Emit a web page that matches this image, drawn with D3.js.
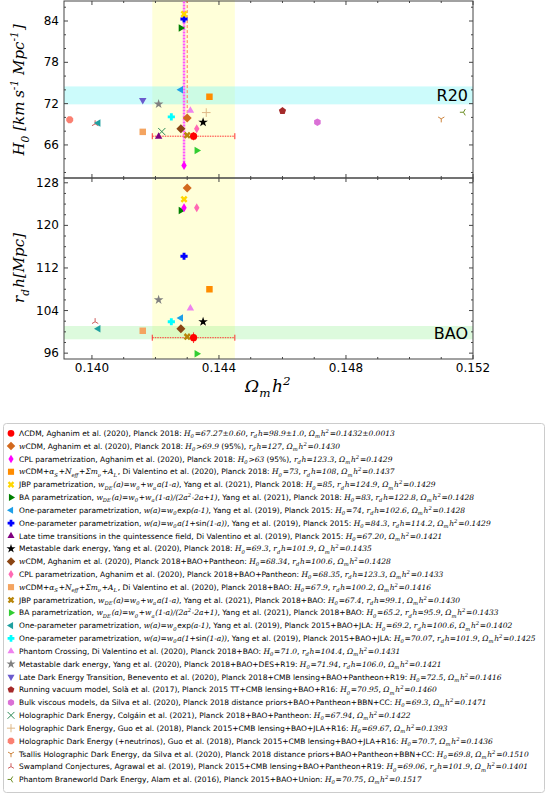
<!DOCTYPE html>
<html><head><meta charset="utf-8">
<script src="https://cdn.jsdelivr.net/npm/d3@7"></script>
<style>body{margin:0;background:#fff}</style>
</head><body>
<svg id="fig" width="549" height="798"></svg>
<script>
// x = Omega_m h^2, top = H0, bottom = r_d h (null = not shown)
var omegas = [0.1432,0.1430,0.1429,0.1437,0.1429,0.1428,0.1428,0.1429,0.1421,0.1435,0.1428,0.1433,0.1416,0.1430,
              0.1433,0.1402,0.1425,0.1431,0.1421,0.1416,0.1460,0.1471,0.1422,0.1436,0.1393,0.1510,0.1401,0.1517];
var h0s = [67.27,69.9,63,73,85,83,74,84.3,67.20,69.3,68.34,68.35,67.9,67.4,
           65.2,69.2,70.07,71.0,71.94,72.5,70.95,69.3,67.94,70.7,69.67,69.8,69.06,70.75];
var rdhs = [98.9,127,123.3,108,124.9,122.8,102.6,114.2,null,101.9,100.6,123.3,100.2,99.1,
            95.9,100.6,101.9,104.4,106.0,null,null,null,null,null,null,null,101.9,null];
var markers = ["circle","diamond","thin","square","xfill","tri_r","tri_l","plusfill","tri_u","star","diamond","thin","square","xfill",
               "tri_r","tri_l","plusfill","tri_u","star","tri_d","pent","hex","xline","plusline","oct","y_down","y_up","y_left"];
var colors = ["#ff0000","#d2691e","#ff00ff","#ff8c00","#ffd700","#008000","#1e9fe8","#0000ff","#800080","#000000","#8b4513","#ff69b4","#f4a460","#b8860b",
              "#32cd32","#20a0a0","#00ffff","#ee82ee","#808080","#6a5acd","#a52a2a","#da70d6","#2e8b57","#deb887","#fa8072","#cd853f","#cd5c5c","#6b8e23"];
var legendMarkers = markers.slice();
var legendColors = colors.slice();
var labels = [
 "ΛCDM, Aghanim et al. (2020), Planck 2018: $H_0=67.27±0.60$, $r_dh=98.9±1.0$, $Ω_mh^2=0.1432±0.0013$",
 "$w$CDM, Aghanim et al. (2020), Planck 2018: $H_0>69.9$ (95%), $r_dh=127$, $Ω_mh^2=0.1430$",
 "CPL parametrization, Aghanim et al. (2020), Planck 2018: $H_0>63$ (95%), $r_dh=123.3$, $Ω_mh^2=0.1429$",
 "$w$CDM+$α_S$+$N_{eff}$+$Σm_ν$+$A_L$, Di Valentino et al. (2020), Planck 2018: $H_0=73$, $r_dh=108$, $Ω_mh^2=0.1437$",
 "JBP parametrization, $w_{DE}(a)=w_0+w_aa(1-a)$, Yang et al. (2021), Planck 2018: $H_0=85$, $r_dh=124.9$, $Ω_mh^2=0.1429$",
 "BA parametrization, $w_{DE}(a)=w_0+w_a(1-a)/(2a^2-2a+1)$, Yang et al. (2021), Planck 2018: $H_0=83$, $r_dh=122.8$, $Ω_mh^2=0.1428$",
 "One-parameter parametrization, $w(a)=w_0$exp$(a-1)$, Yang et al. (2019), Planck 2015: $H_0=74$, $r_dh=102.6$, $Ω_mh^2=0.1428$",
 "One-parameter parametrization, $w(a)=w_0a(1+$sin$(1-a))$, Yang et al. (2019), Planck 2015: $H_0=84.3$, $r_dh=114.2$, $Ω_mh^2=0.1429$",
 "Late time transitions in the quintessence field, Di Valentino et al. (2019), Planck 2015: $H_0=67.20$, $Ω_mh^2=0.1421$",
 "Metastable dark energy, Yang et al. (2020), Planck 2018: $H_0=69.3$, $r_dh=101.9$, $Ω_mh^2=0.1435$",
 "$w$CDM, Aghanim et al. (2020), Planck 2018+BAO+Pantheon: $H_0=68.34$, $r_dh=100.6$, $Ω_mh^2=0.1428$",
 "CPL parametrization, Aghanim et al. (2020), Planck 2018+BAO+Pantheon: $H_0=68.35$, $r_dh=123.3$, $Ω_mh^2=0.1433$",
 "$w$CDM+$α_S$+$N_{eff}$+$Σm_ν$+$A_L$, Di Valentino et al. (2020), Planck 2018+BAO: $H_0=67.9$, $r_dh=100.2$, $Ω_mh^2=0.1416$",
 "JBP parametrization, $w_{DE}(a)=w_0+w_aa(1-a)$, Yang et al. (2021), Planck 2018+BAO: $H_0=67.4$, $r_dh=99.1$, $Ω_mh^2=0.1430$",
 "BA parametrization, $w_{DE}(a)=w_0+w_a(1-a)/(2a^2-2a+1)$, Yang et al. (2021), Planck 2018+BAO: $H_0=65.2$, $r_dh=95.9$, $Ω_mh^2=0.1433$",
 "One-parameter parametrization, $w(a)=w_0$exp$(a-1)$, Yang et al. (2019), Planck 2015+BAO+JLA: $H_0=69.2$, $r_dh=100.6$, $Ω_mh^2=0.1402$",
 "One-parameter parametrization, $w(a)=w_0a(1+$sin$(1-a))$, Yang et al. (2019), Planck 2015+BAO+JLA: $H_0=70.07$, $r_dh=101.9$, $Ω_mh^2=0.1425$",
 "Phantom Crossing, Di Valentino et al. (2020), Planck 2018+BAO: $H_0=71.0$, $r_dh=104.4$, $Ω_mh^2=0.1431$",
 "Metastable dark energy, Yang et al. (2020), Planck 2018+BAO+DES+R19: $H_0=71.94$, $r_dh=106.0$, $Ω_mh^2=0.1421$",
 "Late Dark Energy Transition, Benevento et al. (2020), Planck 2018+CMB lensing+BAO+Pantheon+R19: $H_0=72.5$, $Ω_mh^2=0.1416$",
 "Running vacuum model, Solà et al. (2017), Planck 2015 TT+CMB lensing+BAO+R16: $H_0=70.95$, $Ω_mh^2=0.1460$",
 "Bulk viscous models, da Silva et al. (2020), Planck 2018 distance priors+BAO+Pantheon+BBN+CC: $H_0=69.3$, $Ω_mh^2=0.1471$",
 "Holographic Dark Energy, Colgáin et al. (2021), Planck 2018+BAO+Pantheon: $H_0=67.94$, $Ω_mh^2=0.1422$",
 "Holographic Dark Energy, Guo et al. (2018), Planck 2015+CMB lensing+BAO+JLA+R16: $H_0=69.67$, $Ω_mh^2=0.1393$",
 "Holographic Dark Energy (+neutrinos), Guo et al. (2018), Planck 2015+CMB lensing+BAO+JLA+R16: $H_0=70.7$, $Ω_mh^2=0.1436$",
 "Tsallis Holographic Dark Energy, da Silva et al. (2020), Planck 2018 distance priors+BAO+Pantheon+BBN+CC: $H_0=69.8$, $Ω_mh^2=0.1510$",
 "Swampland Conjectures, Agrawal et al. (2019), Planck 2015+CMB lensing+BAO+Pantheon+R19: $H_0=69.06$, $r_dh=101.9$, $Ω_mh^2=0.1401$",
 "Phantom Braneworld Dark Energy, Alam et al. (2016), Planck 2015+BAO+Union: $H_0=70.75$, $Ω_mh^2=0.1517$"
];
var xTicks = [0.140,0.144,0.148,0.152];
var h0Ticks = [66,72,78,84];
var rdhTicks = [96,104,112,120,128];

var svg = d3.select("#fig");
var L = 64, R = 473;
var x = d3.scaleLinear().domain([0.13912,0.152]).range([L,R]);
var yTop = d3.scaleLinear().domain([61.2,87.05]).range([178,0]);
var yBot = d3.scaleLinear().domain([94.9,128.9]).range([359,178]);

function poly(n, r, rot) {
    var p = [];
    for (var i = 0; i < n; i++) { var a = rot + i*2*Math.PI/n; p.push([r*Math.sin(a), -r*Math.cos(a)]); }
    return "M" + p.join("L") + "Z";
}
function tri(r, ang) { return poly(3, r, ang); }
function markerPath(t, s) {
    var r = s;
    switch (t) {
    case "circle": return d3.symbol(d3.symbolCircle, Math.PI*r*r)();
    case "oct": return poly(8, r*1.05, Math.PI/8);
    case "hex": return poly(6, r*1.05, 0);
    case "pent": return poly(5, r*1.05, 0);
    case "square": return "M"+(-r*0.9)+","+(-r*0.9)+"h"+(1.8*r)+"v"+(1.8*r)+"h"+(-1.8*r)+"Z";
    case "diamond": return "M0,"+(-r*1.25)+"L"+(r*1.25)+",0L0,"+(r*1.25)+"L"+(-r*1.25)+",0Z";
    case "thin": return "M0,"+(-r*1.25)+"L"+(r*0.75)+",0L0,"+(r*1.25)+"L"+(-r*0.75)+",0Z";
    case "tri_u": return tri(r*1.2, 0);
    case "tri_d": return tri(r*1.2, Math.PI);
    case "tri_r": return tri(r*1.2, Math.PI/2);
    case "tri_l": return tri(r*1.2, -Math.PI/2);
    case "star": return d3.symbol(d3.symbolStar, r*r*2.2)();
    case "plusfill": var a = r, b = r*0.4;
        return "M"+(-b)+","+(-a)+"H"+b+"V"+(-b)+"H"+a+"V"+b+"H"+b+"V"+a+"H"+(-b)+"V"+b+"H"+(-a)+"V"+(-b)+"H"+(-b)+"Z";
    case "xfill": return d3.symbol(d3.symbolCross, r*r*2.4)();
    case "xline": return "M"+(-r)+","+(-r)+"L"+r+","+r+"M"+(-r)+","+r+"L"+r+","+(-r);
    case "plusline": return "M0,"+(-r*1.2)+"V"+(r*1.2)+"M"+(-r*1.2)+",0H"+(r*1.2);
    case "y_down": return "M0,0V"+(r)+"M0,0L"+(-r*0.87)+","+(-r*0.5)+"M0,0L"+(r*0.87)+","+(-r*0.5);
    case "y_up": return "M0,0V"+(-r)+"M0,0L"+(-r*0.87)+","+(r*0.5)+"M0,0L"+(r*0.87)+","+(r*0.5);
    case "y_left": return "M0,0H"+(-r)+"M0,0L"+(r*0.5)+","+(-r*0.87)+"M0,0L"+(r*0.5)+","+(r*0.87);
    }
}
function drawMarker(g, t, c, px, py, s) {
    var lined = (t == "xline" || t == "plusline" || t.indexOf("y_") == 0);
    var p = g.append("path").attr("d", markerPath(t, s))
        .attr("transform", "translate("+px+","+py+")" + (t == "xfill" ? " rotate(45)" : ""));
    if (lined) p.attr("fill", "none").attr("stroke", c).attr("stroke-width", 1);
    else p.attr("fill", c);
}

function panel(y, y0, y1, ticks, minorStep) {
    var g = svg.append("g");
    g.append("rect").attr("x", L).attr("y", y0).attr("width", R-L).attr("height", y1-y0)
        .attr("fill", "none").attr("stroke", "#444").attr("stroke-width", 1);
    var xmin = d3.range(0.140, 0.1525, 0.001);
    xmin.forEach(function (v, i) {
        var len = (i % 4 == 0) ? 4 : 2;
        g.append("line").attr("x1", x(v)).attr("x2", x(v)).attr("y1", y1).attr("y2", y1-len).attr("stroke", "#444");
        g.append("line").attr("x1", x(v)).attr("x2", x(v)).attr("y1", y0).attr("y2", y0+len).attr("stroke", "#444");
    });
    var d = y.domain();
    d3.range(Math.ceil(d[0]/minorStep)*minorStep, d[1], minorStep).forEach(function (v) {
        var len = ticks.indexOf(v) >= 0 ? 4 : 2;
        g.append("line").attr("x1", L).attr("x2", L+len).attr("y1", y(v)).attr("y2", y(v)).attr("stroke", "#444");
        g.append("line").attr("x1", R).attr("x2", R-len).attr("y1", y(v)).attr("y2", y(v)).attr("stroke", "#444");
    });
    ticks.forEach(function (v) {
        g.append("text").attr("x", L-5).attr("y", y(v)+4).attr("text-anchor", "end")
            .attr("font-family", "DejaVu Sans").attr("font-size", 12).text(v);
    });
    return g;
}

// bands
var bands = svg.append("g");
bands.append("rect").attr("x", x(0.1419)).attr("width", x(0.1445)-x(0.1419)).attr("y", 0).attr("height", 359)
    .attr("fill", "#ffffcc").attr("opacity", 0.75);
bands.append("rect").attr("x", L).attr("width", R-L).attr("y", yTop(74.5)).attr("height", yTop(71.9)-yTop(74.5))
    .attr("fill", "#7ff5f5").attr("opacity", 0.4);
bands.append("rect").attr("x", L).attr("width", R-L).attr("y", yBot(101.1)).attr("height", yBot(98.6)-yBot(101.1))
    .attr("fill", "#90ee90").attr("opacity", 0.3);

panel(yTop, 1, 178, h0Ticks, 2);
panel(yBot, 178, 359, rdhTicks, 2);

svg.append("text").attr("x", R-5).attr("y", yTop(73.2)+6).attr("text-anchor", "end")
    .attr("font-family", "DejaVu Sans").attr("font-size", 16).text("R20");
svg.append("text").attr("x", R-5).attr("y", yBot(99.85)+6).attr("text-anchor", "end")
    .attr("font-family", "DejaVu Sans").attr("font-size", 16).text("BAO");

// lower limits
svg.append("line").attr("x1", x(0.1430)).attr("x2", x(0.1430)).attr("y1", yTop(69.9)).attr("y2", 1)
    .attr("stroke", "#ff7f50").attr("stroke-width", 1).attr("stroke-dasharray", "3,2");
svg.append("line").attr("x1", x(0.1429)).attr("x2", x(0.1429)).attr("y1", yTop(63)).attr("y2", 1)
    .attr("stroke", "#ff55ff").attr("stroke-width", 2.5).attr("stroke-dasharray", "2,1");

// error bars for LCDM
function errBar(g, y, yv, ye) {
    var e = g.append("g").attr("stroke", "#ff3030").attr("stroke-width", 1);
    e.append("line").attr("x1", x(0.1419)).attr("x2", x(0.1445)).attr("y1", y(yv)).attr("y2", y(yv)).attr("stroke-dasharray", "1.5,1");
    [0.1419, 0.1445].forEach(function (v) { e.append("line").attr("x1", x(v)).attr("x2", x(v)).attr("y1", y(yv)-3).attr("y2", y(yv)+3); });
    e.append("line").attr("x1", x(0.1432)).attr("x2", x(0.1432)).attr("y1", y(yv-ye)).attr("y2", y(yv+ye));
}
errBar(svg, yTop, 67.27, 0.6);
errBar(svg, yBot, 98.9, 1.0);

var pts = svg.append("g");
for (var i = omegas.length-1; i >= 0; i--) {
    drawMarker(pts, markers[i], colors[i], x(omegas[i]), yTop(h0s[i]), 3.6);
    if (rdhs[i] !== null) drawMarker(pts, markers[i], colors[i], x(omegas[i]), yBot(rdhs[i]), 3.6);
}

xTicks.forEach(function (v) {
    svg.append("text").attr("x", x(v)).attr("y", 372).attr("text-anchor", "middle")
        .attr("font-family", "DejaVu Sans").attr("font-size", 12).text(v.toFixed(3));
});

// math text helper: $...$ segments in serif italic, _ and ^ handled
function richText(t, str, size) {
    var parts = str.split("$");
    parts.forEach(function (p, k) {
        if (k % 2 == 0) { if (p) t.append("tspan").text(p); return; }
        var i = 0;
        while (i < p.length) {
            var c = p[i];
            if (c == "_" || c == "^") {
                var s;
                if (p[i+1] == "{") { var j = p.indexOf("}", i); s = p.slice(i+2, j); i = j+1; }
                else { s = p[i+1]; i += 2; }
                var dy = c == "_" ? size*0.3 : -size*0.4;
                t.append("tspan").attr("dy", dy).attr("font-size", size*0.7)
                    .attr("font-family", "DejaVu Serif").attr("font-style", "italic").text(s);
                t.append("tspan").attr("dy", -dy).text("\u200a");
            } else {
                var j2 = i;
                while (j2 < p.length && p[j2] != "_" && p[j2] != "^") j2++;
                t.append("tspan").attr("font-family", "DejaVu Serif").attr("font-style", "italic").text(p.slice(i, j2));
                i = j2;
            }
        }
    });
}

var xl = svg.append("text").attr("x", (L+R)/2).attr("y", 392).attr("text-anchor", "middle").attr("font-size", 17);
richText(xl, "$Ω_mh^2$", 17);
var yl1 = svg.append("text").attr("transform", "translate(24,"+yTop(74)+") rotate(-90)").attr("text-anchor", "middle").attr("font-size", 15);
richText(yl1, "$H_0$  $[km$ $s^{-1}$  $Mpc^{-1}]$", 15);
var yl2 = svg.append("text").attr("transform", "translate(24,"+yBot(112)+") rotate(-90)").attr("text-anchor", "middle").attr("font-size", 15);
richText(yl2, "$r_dh[Mpc]$", 15);

// legend
var lg = svg.append("g");
lg.append("rect").attr("x", 3.5).attr("y", 423.5).attr("width", 541).attr("height", 369).attr("rx", 3)
    .attr("fill", "#fff").attr("stroke", "#ccc");
labels.forEach(function (lab, i) {
    var yy = 433.3 + i*12.82;
    drawMarker(lg, legendMarkers[i], legendColors[i], 11, yy, 3.4);
    var t = lg.append("text").attr("x", 19).attr("y", yy+2.7).attr("font-family", "DejaVu Sans").attr("font-size", 7.5);
    richText(t, lab, 7.5);
});
</script>
</body></html>
